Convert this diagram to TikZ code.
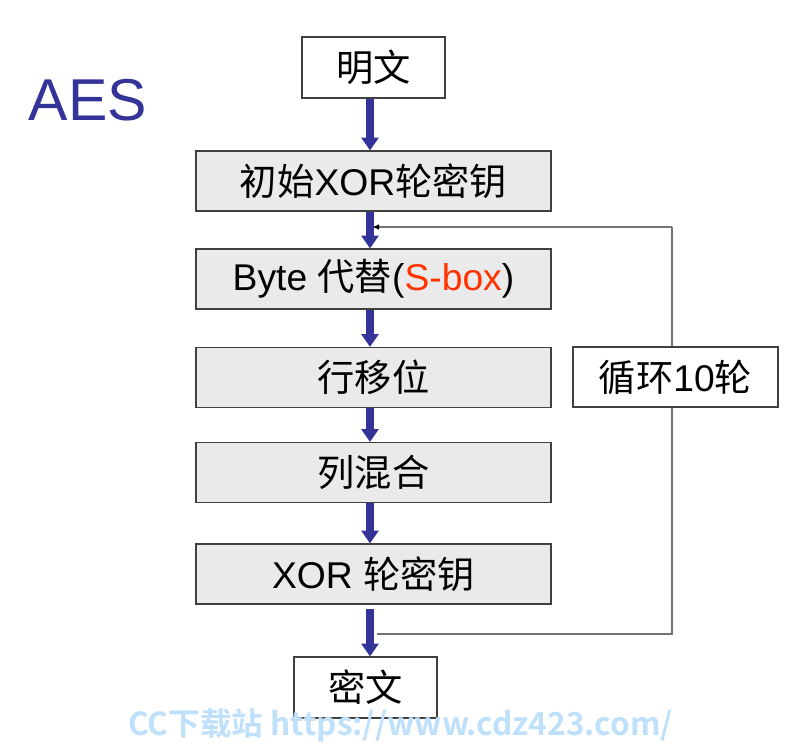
\documentclass[tikz,border=0pt]{standalone}
\usepackage{fontspec}
\setmainfont{Liberation Sans}
\newfontfamily\cjk{Noto Sans CJK SC}
\newfontfamily\cjkb{Noto Sans CJK SC Bold}
\usetikzlibrary{arrows.meta}
\definecolor{aesblue}{HTML}{333399}
\definecolor{boxgray}{HTML}{EAEAEA}
\definecolor{sboxred}{HTML}{FF3300}
\definecolor{wmblue}{HTML}{BEE0FA}
\begin{document}
\begin{tikzpicture}[
		plainbox/.style={draw=black!75,line width=0.8pt,fill=white,minimum width=3.575cm,minimum height=1.525cm,font=\fontsize{26.5}{30}\selectfont},
		roundbox/.style={draw=black!75,line width=0.8pt,fill=boxgray,minimum width=8.875cm,minimum height=1.5cm,font=\fontsize{26.5}{30}\selectfont},
		flow/.style={aesblue,line width=5pt,-{Triangle[width=0.42cm,length=0.32cm]}},
		loopline/.style={black!55,line width=1pt}]
	\useasboundingbox (0,0) rectangle (20.05,18.85);
	%
	\node (aes) at (2.2,16.35) {\fontsize{42}{48}\selectfont\color{aesblue}AES};
	\node[plainbox] (ming) at (9.3375,17.1625) {\cjk 明文};
	\node[roundbox] (init) at (9.3375,14.325) {{\cjk 初始}XOR{\cjk 轮密钥}};
	\node[roundbox] (sub) at (9.3375,11.875) {Byte {\cjk 代替}(\textcolor{sboxred}{S-box})};
	\node[roundbox] (shift) at (9.3375,9.4125) {\cjk 行移位};
	\node[roundbox] (mix) at (9.3375,7.0375) {\cjk 列混合};
	\node[roundbox] (key) at (9.3375,4.5) {XOR {\cjk 轮密钥}};
	\node[plainbox] (mi) at (9.1375,1.6625) {\cjk 密文};
	%
	\coordinate (axis) at (9.25,0);
	\coordinate (out) at (9.425,3.0);
	\coordinate (back) at (9.3,13.175);
	\draw[loopline] (out) -- (16.8,3.0) -- (16.8,13.175);
	\draw[loopline,-{Latex[black,length=5pt,width=4pt]}] (16.8,13.175) -- (back);
	\node[plainbox,minimum width=5.125cm,minimum height=1.5cm] (loop) at (16.8875,9.425) {{\cjk 循环}10{\cjk 轮}};
	%
	\draw[flow] (ming.south -| axis) -- (init.north -| axis);
	\draw[flow] (init.south -| axis) -- (sub.north -| axis);
	\draw[flow] (sub.south -| axis) -- (shift.north -| axis);
	\draw[flow] (shift.south -| axis) -- (mix.north -| axis);
	\draw[flow] (mix.south -| axis) -- (key.north -| axis);
	\draw[flow] ([yshift=-0.1cm]key.south -| axis) -- (mi.north -| axis);
	%
	\node[anchor=west,text=wmblue,inner sep=0pt] (mark) at (3.2,0.72) {\cjkb\fontsize{22.5}{26}\selectfont CC下载站 https://www.cdz423.com/};
\end{tikzpicture}
\end{document}
